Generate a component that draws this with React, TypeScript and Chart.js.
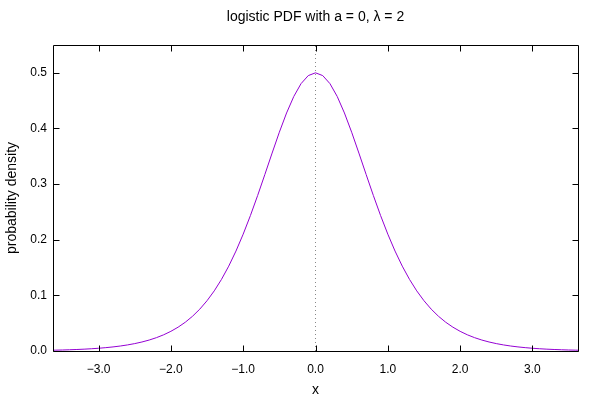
import React, { useEffect, useRef } from "react";
import { Chart, registerables } from "chart.js";

Chart.register(...registerables);

const xs = [
  -3.63, -3.6, -3.5, -3.4, -3.3, -3.2, -3.1, -3.0, -2.9, -2.8, -2.7, -2.6, -2.5, -2.4, -2.3, -2.2, -2.1,
  -2.0, -1.9, -1.8, -1.7, -1.6, -1.5, -1.4, -1.3, -1.2, -1.1, -1.0, -0.9, -0.8, -0.7, -0.6, -0.5, -0.4,
  -0.3, -0.2, -0.1, 0.0, 0.1, 0.2, 0.3, 0.4, 0.5, 0.6, 0.7, 0.8, 0.9, 1.0, 1.1, 1.2, 1.3, 1.4, 1.5, 1.6,
  1.7, 1.8, 1.9, 2.0, 2.1, 2.2, 2.3, 2.4, 2.5, 2.6, 2.7, 2.8, 2.9, 3.0, 3.1, 3.2, 3.3, 3.4, 3.5, 3.6, 3.63,
];
const density = [
  0.00141, 0.00149, 0.00182, 0.00222, 0.00271, 0.00331, 0.00404, 0.00493, 0.00602, 0.00734, 0.00895,
  0.01091, 0.0133, 0.01619, 0.01971, 0.02396, 0.02911, 0.03533, 0.04281, 0.05178, 0.06251, 0.07526,
  0.09035, 0.10808, 0.12872, 0.15251, 0.1796, 0.20999, 0.24346, 0.27953, 0.31737, 0.35579, 0.39322,
  0.42782, 0.45757, 0.48052, 0.49503, 0.5, 0.49503, 0.48052, 0.45757, 0.42782, 0.39322, 0.35579,
  0.31737, 0.27953, 0.24346, 0.20999, 0.1796, 0.15251, 0.12872, 0.10808, 0.09035, 0.07526, 0.06251,
  0.05178, 0.04281, 0.03533, 0.02911, 0.02396, 0.01971, 0.01619, 0.0133, 0.01091, 0.00895, 0.00734,
  0.00602, 0.00493, 0.00404, 0.00331, 0.00271, 0.00222, 0.00182, 0.00149, 0.00141,
];
const xTicks = [-3, -2, -1, 0, 1, 2, 3];
const yTicks = [0, 0.1, 0.2, 0.3, 0.4, 0.5];
const meanLineX = [0, 0];
const meanLineY = [0, 0.55];

const titleText = "logistic PDF with a = 0, λ = 2";
const FONT = "'Liberation Sans', Arial, sans-serif";

const framePlugin = {
  id: "frame",
  afterDraw(chart: any) {
    const { ctx, chartArea: a, scales } = chart;
    ctx.save();
    ctx.strokeStyle = "#000";
    ctx.lineWidth = 1;
    ctx.beginPath();
    const L = Math.round(a.left) + 0.5;
    const R = Math.round(a.right) + 0.5;
    const T = Math.round(a.top) + 0.5;
    const B = Math.round(a.bottom) + 0.5;
    ctx.rect(L, T, R - L, B - T);
    const tl = 6;
    for (const v of xTicks) {
      const p = Math.round(scales.x.getPixelForValue(v)) + 0.5;
      ctx.moveTo(p, B);
      ctx.lineTo(p, B - tl);
      ctx.moveTo(p, T);
      ctx.lineTo(p, T + tl);
    }
    for (const v of yTicks) {
      const p = Math.round(scales.y.getPixelForValue(v)) + 0.5;
      ctx.moveTo(L, p);
      ctx.lineTo(L + tl, p);
      ctx.moveTo(R, p);
      ctx.lineTo(R - tl, p);
    }
    ctx.stroke();
    // title, centred over the plot area
    ctx.fillStyle = "#000";
    ctx.font = `14px ${FONT}`;
    ctx.textAlign = "center";
    ctx.textBaseline = "middle";
    ctx.fillText(titleText, (a.left + a.right) / 2, 17);
    ctx.restore();
  },
};

export default function App() {
  const ref = useRef<HTMLCanvasElement>(null);
  useEffect(() => {
    if (!ref.current) return;
    const chart = new Chart(ref.current, {
      type: "line",
      data: {
        datasets: [
          {
            data: xs.map((x, i) => ({ x, y: density[i] })),
            borderColor: "#9400d3",
            borderWidth: 1,
            pointRadius: 0,
            tension: 0,
            fill: false,
          },
          {
            data: meanLineX.map((x, i) => ({ x, y: meanLineY[i] })),
            borderColor: "#888",
            borderWidth: 1,
            borderDash: [1, 3],
            pointRadius: 0,
            fill: false,
          },
        ],
      },
      plugins: [framePlugin],
      options: {
        animation: false,
        responsive: false,
        maintainAspectRatio: false,
        layout: { padding: { left: 0, right: 22, top: 45, bottom: 0 } },
        plugins: {
          legend: { display: false },
          tooltip: { enabled: false },
          title: { display: false },
        },
        scales: {
          x: {
            type: "linear",
            min: -3.63,
            max: 3.63,
            afterBuildTicks: (s: any) => {
              s.ticks = xTicks.map((v) => ({ value: v }));
            },
            afterFit: (s: any) => {
              s.height = 49;
            },
            grid: { display: false, drawTicks: false },
            border: { display: false },
            ticks: {
              color: "#000",
              font: { family: FONT, size: 12 },
              padding: 11,
              maxRotation: 0,
              callback: (v: any) => Number(v).toFixed(1).replace("-", "\u2212"),
            },
            title: {
              display: true,
              text: "x",
              color: "#000",
              font: { family: FONT, size: 14 },
              padding: { top: 0, bottom: 1 },
            },
          },
          y: {
            type: "linear",
            min: 0,
            max: 0.55,
            afterBuildTicks: (s: any) => {
              s.ticks = yTicks.map((v) => ({ value: v }));
            },
            afterFit: (s: any) => {
              s.width = 53;
            },
            grid: { display: false, drawTicks: false },
            border: { display: false },
            ticks: {
              color: "#000",
              font: { family: FONT, size: 12 },
              padding: 6,
              callback: (v: any) => Number(v).toFixed(1),
            },
            title: {
              display: true,
              text: "probability density",
              color: "#000",
              font: { family: FONT, size: 14 },
              padding: { top: 4, bottom: 0 },
            },
          },
        },
      },
    });
    return () => chart.destroy();
  }, []);
  return (
    <div style={{ position: "fixed", left: 0, top: 0, width: 600, height: 400, background: "#fff" }}>
      <canvas ref={ref} width={600} height={400} style={{ width: 600, height: 400 }} />
    </div>
  );
}
